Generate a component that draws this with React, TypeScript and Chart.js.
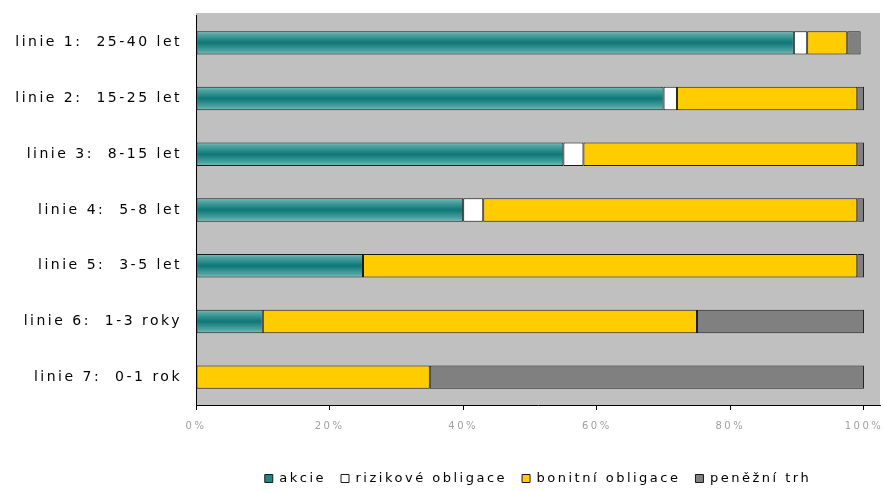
import React, { useEffect, useRef } from "react";
import { Chart, registerables } from "chart.js";

Chart.register(...registerables);

const categories = [
  "linie 1:  25-40 let",
  "linie 2:  15-25 let",
  "linie 3:  8-15 let",
  "linie 4:  5-8 let",
  "linie 5:  3-5 let",
  "linie 6:  1-3 roky",
  "linie 7:  0-1 rok",
];

const akcie = [89.5, 70, 55, 40, 25, 10, 0];
const rizikoveObligace = [2, 2, 3, 3, 0, 0, 0];
const bonitniObligace = [6, 27, 41, 56, 74, 65, 35];
const penezniTrh = [2, 1, 1, 1, 1, 25, 65];

const seriesNames = ["akcie", "rizikové obligace", "bonitní obligace", "peněžní trh"];
const tickValues = [0, 20, 40, 60, 80, 100];

const TEAL = "#1f8584";
const CAT_PCT = 0.84;
const BAR_PCT = 0.5;
const SPACING = "2.5px";

const plotBackground = {
  id: "plotBackground",
  beforeLayout(chart: any) {
    chart.ctx.letterSpacing = SPACING;
  },
  beforeDraw(chart: any) {
    const { ctx, chartArea } = chart;
    ctx.letterSpacing = SPACING;
    if (!chartArea) return;
    ctx.save();
    ctx.fillStyle = "#c0c0c0";
    ctx.fillRect(chartArea.left, chartArea.top - 2, chartArea.right - chartArea.left, chartArea.bottom - chartArea.top + 2);
    ctx.restore();
  },
};

function tealGradient(context: any) {
  const chart = context.chart;
  const y = chart.scales?.y;
  if (!chart.chartArea || !y || context.dataIndex === undefined) return TEAL;
  const center = y.getPixelForValue(context.dataIndex);
  const band = (chart.chartArea.bottom - chart.chartArea.top) / categories.length;
  const half = (band * CAT_PCT * BAR_PCT) / 2;
  const g = chart.ctx.createLinearGradient(0, center - half, 0, center + half);
  g.addColorStop(0, "#7cc0be");
  g.addColorStop(0.15, "#4ea3a1");
  g.addColorStop(0.5, "#0d7777");
  g.addColorStop(0.85, "#4ea3a1");
  g.addColorStop(1, "#7cc0be");
  return g;
}

export default function App() {
  const canvasRef = useRef<HTMLCanvasElement | null>(null);

  useEffect(() => {
    const canvas = canvasRef.current;
    if (!canvas) return;
    const fills = [TEAL, "#ffffff", "#ffcc00", "#808080"];
    const values = [akcie, rizikoveObligace, bonitniObligace, penezniTrh];
    const chart = new Chart(canvas, {
      type: "bar",
      data: {
        labels: categories,
        datasets: values.map((data, i) => ({
          label: seriesNames[i],
          data,
          backgroundColor: i === 0 ? tealGradient : fills[i],
          borderColor: "#1a1a1a",
          borderWidth: 1,
          borderSkipped: false,
          categoryPercentage: CAT_PCT,
          barPercentage: BAR_PCT,
        })),
      },
      options: {
        indexAxis: "y",
        responsive: false,
        animation: false,
        layout: { padding: { top: 15, right: 3, left: 0, bottom: -6 } },
        scales: {
          x: {
            stacked: true,
            min: 0,
            max: 102.4,
            afterBuildTicks: (scale: any) => {
              scale.ticks = tickValues.map((v) => ({ value: v }));
            },
            afterFit: (scale: any) => {
              scale.height = 52;
              scale.paddingLeft = 0;
              scale.paddingRight = 0;
            },
            grid: {
              drawOnChartArea: false,
              drawTicks: true,
              tickLength: 5,
              color: "#000",
            },
            border: { display: true, color: "#000", width: 1 },
            ticks: {
              color: "#a0a0a0",
              font: { family: "DejaVu Sans", size: 10 },
              padding: 10,
              maxRotation: 0,
              callback: (v: any) => `${v}%`,
            },
          },
          y: {
            stacked: true,
            afterFit: (scale: any) => {
              scale.width = 196;
              scale.paddingTop = 0;
              scale.paddingBottom = 0;
            },
            grid: { display: false, drawTicks: false },
            border: { display: true, color: "#000", width: 1 },
            ticks: {
              color: "#000",
              font: { family: "DejaVu Sans", size: 14 },
              padding: 14,
            },
          },
        },
        plugins: {
          legend: {
            position: "bottom",
            fullSize: false,
            labels: {
              boxWidth: 8,
              boxHeight: 8,
              padding: 15,
              color: "#000",
              font: { family: "DejaVu Sans", size: 13 },
              generateLabels: (c: any) =>
                c.data.datasets.map((ds: any, i: number) => ({
                  text: ds.label,
                  fillStyle: fills[i],
                  strokeStyle: "#1a1a1a",
                  lineWidth: 1,
                  datasetIndex: i,
                  hidden: false,
                })),
            },
          },
          tooltip: { enabled: false },
        },
      },
      plugins: [plotBackground],
    });
    return () => chart.destroy();
  }, []);

  return (
    <div style={{ position: "absolute", left: 0, top: 0, width: 883, height: 489, background: "#fff" }}>
      <canvas ref={canvasRef} width={883} height={489} />
    </div>
  );
}
